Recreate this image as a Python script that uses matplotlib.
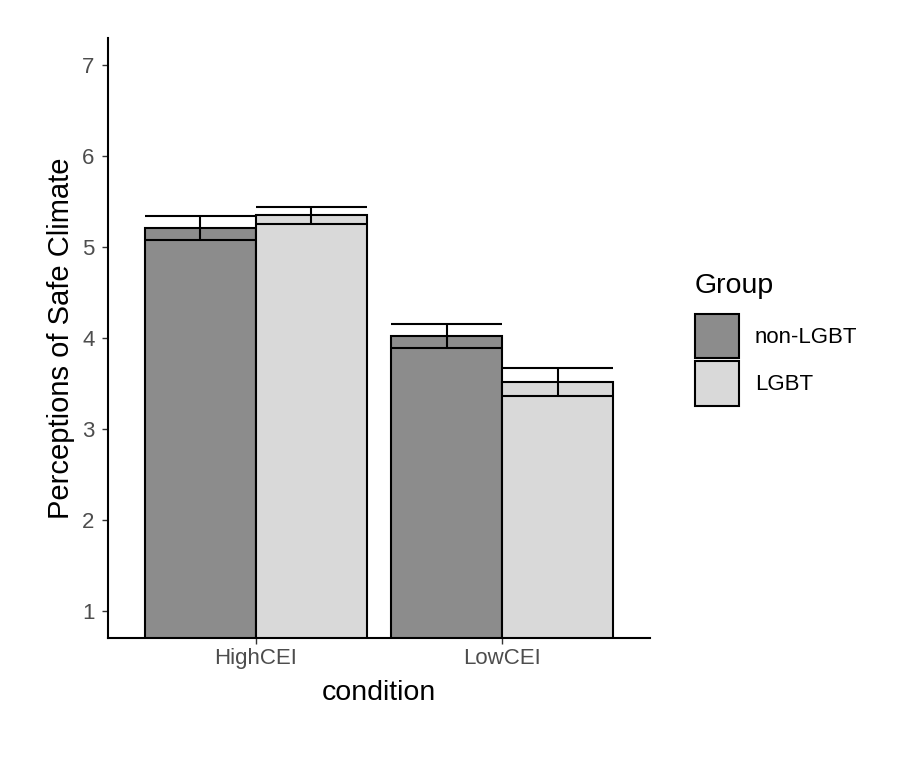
import matplotlib.pyplot as plt
import numpy as np

plt.rcParams['font.family'] = ['Liberation Sans', 'DejaVu Sans']

# datos
conditions = ["HighCEI", "LowCEI"]
groups = ["non-LGBT", "LGBT"]
means = {"non-LGBT": [5.21, 4.02], "LGBT": [5.35, 3.52]}
ses = {"non-LGBT": [0.135, 0.13], "LGBT": [0.095, 0.155]}
colors = {"non-LGBT": "#8c8c8c", "LGBT": "#d9d9d9"}

W, H = 912, 758
fig = plt.figure(figsize=(W/100, H/100), dpi=100)
ax = fig.add_axes([108/W, 1 - 638/H, (650 - 108)/W, (638 - 38)/H])

x = np.arange(1, len(conditions) + 1)
w = 0.45
handles = []
for i, g in enumerate(groups):
    xpos = x + (i - 0.5) * w
    m = np.array(means[g])
    s = np.array(ses[g])
    b = ax.bar(xpos, m, width=w, color=colors[g], edgecolor="black",
               linewidth=1.5, label=g, zorder=2)
    handles.append(b)
    # barras de error estilo ggplot
    ax.hlines(m - s, xpos - w/2, xpos + w/2, color="black", lw=1.5, zorder=3)
    ax.hlines(m + s, xpos - w/2, xpos + w/2, color="black", lw=1.5, zorder=3)
    ax.vlines(xpos, m - s, m + s, color="black", lw=1.5, zorder=3)

ax.set_xlim(0.4, 2.6)
ax.set_ylim(0.7, 7.3)
ax.set_xticks(x)
ax.set_xticklabels(conditions)
ax.set_yticks(range(1, 8))
ax.tick_params(axis="both", labelsize=16, labelcolor="#4d4d4d", color="#333333",
               length=4.3, width=1.0)
ax.tick_params(axis="x", pad=3)
ax.tick_params(axis="y", pad=5.5)
for side in ["top", "right"]:
    ax.spines[side].set_visible(False)
for side in ["left", "bottom"]:
    ax.spines[side].set_linewidth(1.5)
ax.set_xlabel("condition", fontsize=20.5, labelpad=8)
ax.set_ylabel("Perceptions of Safe Climate", fontsize=21, labelpad=5)

# leyenda
fig.text(695/W, 1 - 273/H, "Group", fontsize=20.5, ha="left", va="top")
leg = fig.legend(handles=handles, labels=groups,
                 loc="upper left", bbox_to_anchor=(695/W, 1 - 314/H),
                 frameon=False, fontsize=16,
                 handlelength=2.0, handleheight=2.7, labelspacing=0.12,
                 handletextpad=0.7, borderaxespad=0, borderpad=0)

plt.savefig("out.png", dpi=100)
